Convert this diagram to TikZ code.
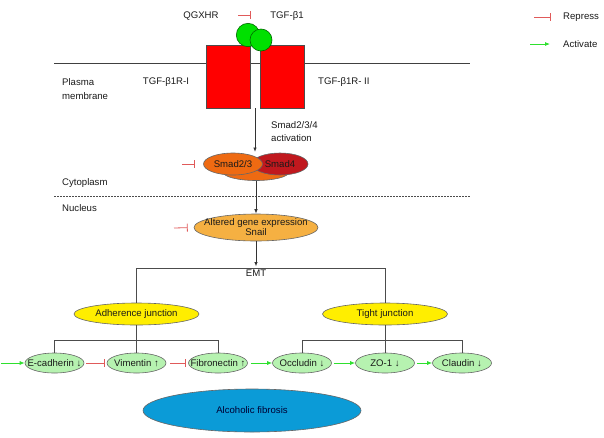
\documentclass[tikz,border=0pt]{standalone}
\usepackage{fontspec}
\setmainfont{Liberation Sans}
\usetikzlibrary{arrows.meta,shapes.geometric}
\definecolor{repred}{HTML}{E05A5A}
\definecolor{actgreen}{HTML}{2EE02E}
\definecolor{recred}{HTML}{FF0000}
\definecolor{ballgreen}{HTML}{00E000}
\definecolor{smadorange}{HTML}{EE6A12}
\definecolor{smaddark}{HTML}{C0181E}
\definecolor{altered}{HTML}{F5B042}
\definecolor{junc}{HTML}{FFEE00}
\definecolor{lgreen}{HTML}{B6F2B0}
\definecolor{fibblue}{HTML}{0B9BD7}
\definecolor{txtgray}{HTML}{1A1A1A}
\begin{document}
\begin{tikzpicture}[x=1pt,y=-1pt,
  font=\fontsize{9.6}{11}\selectfont, text=txtgray,
  lbl/.style={inner sep=0pt},
  rep/.style={draw=repred, line width=0.8pt, -{Bar[width=8pt,line width=0.8pt]}},
  act/.style={draw=actgreen, line width=0.8pt, -{Latex[length=5pt,width=4pt]}},
  flow/.style={draw=black!80, line width=0.8pt, -{Latex[length=4.5pt,width=3.5pt]}},
  tree/.style={draw=black!70, line width=0.9pt},
  ell/.style={ellipse, inner sep=0pt, draw=black!60, line width=0.6pt},
  gell/.style={ell, fill=lgreen, minimum width=59pt, minimum height=20pt},
  jell/.style={ell, fill=junc, minimum width=125pt, minimum height=22pt},
  rec/.style={draw=black!70, fill=recred, line width=0.6pt},
]
\useasboundingbox (0,0) rectangle (604,437);

% membrane and nucleus boundary
\draw[black!75, line width=0.8pt] (54,63) -- (470,63);
\draw[black!70, line width=0.7pt, dashed, dash pattern=on 2pt off 1pt] (54,196) -- (470,196);

% receptors
\draw[rec] (206,45) rectangle (250,108);
\draw[rec] (260,45) rectangle (304,108);
\draw[draw=green!40!black, fill=ballgreen, line width=0.6pt] (248,35) circle (11.7);
\draw[draw=green!40!black, fill=ballgreen, line width=0.6pt] (261,40) circle (11);
\coordinate (rec) at (255,108);

% top labels
\node[lbl] (qg) at (201,16) {QGXHR};
\node[lbl] (tgf) at (287,16) {TGF-β1};
\coordinate (qr) at (238,15);
\coordinate (qe) at (251,15);
\draw[rep] (qr) -- (qe);

\node[lbl, anchor=west, align=left, font=\fontsize{9.6}{14}\selectfont] (pm) at (62,89) {Plasma\\membrane};
\node[lbl] (r1) at (166,82) {TGF-β1R-I};
\node[lbl, anchor=west] (r2) at (318,82) {TGF-β1R- II};
\node[lbl, anchor=west] (cyto) at (62,183) {Cytoplasm};
\node[lbl, anchor=west] (nuc) at (62,208) {Nucleus};

% legend
\coordinate (lr) at (534,17);
\coordinate (lre) at (551,17);
\draw[rep] (lr) -- (lre);
\node[lbl, anchor=west] (repl) at (563,17) {Repress};
\coordinate (la) at (530,44);
\coordinate (lae) at (550,44);
\draw[act] (la) -- (lae);
\node[lbl, anchor=west] (actl) at (563,44) {Activate};

% Smad complex
\node[lbl, anchor=west, align=left, font=\fontsize{9.6}{13}\selectfont] (sact) at (271,131.5) {Smad2/3/4\\activation};
\node[ell, fill=smadorange, minimum width=66pt, minimum height=17pt] (sback) at (256,172) {};
\node[ell, fill=smaddark, minimum width=56pt, minimum height=22pt, label={center:Smad4}] (s4) at (280,164) {};
\node[ell, fill=smadorange, minimum width=59pt, minimum height=22pt, label={center:Smad2/3}] (s23) at (233,164) {};
\coordinate (stop) at (255,152);
\draw[flow] (rec) -- (stop);
\coordinate (rs) at (182,164);
\draw[rep, shorten >=8pt] (rs) -- (s23.west);

% altered gene expression
\node[ell, fill=altered, minimum width=124pt, minimum height=27pt,
  label={[align=center, font=\fontsize{9.6}{10}\selectfont]center:Altered gene expression\\Snail}] (alt) at (256,227.5) {};
\draw[flow] (sback.south) -- (alt.north);
\coordinate (ra) at (174,228);
\draw[rep, shorten >=6pt] (ra) -- (alt.west);

% EMT
\node[lbl] (emt) at (256,273) {EMT};
\draw[flow, shorten >=3pt] (alt.south) -- (emt.north);

% junctions
\node[jell, label={center:Adherence junction}] (adh) at (136.5,314) {};
\node[jell, label={center:Tight junction}] (tj) at (385,314) {};
\draw[tree] (adh.north) -- ++(0,-34) -| (tj.north);

% green markers
\node[gell, label={center:E-cadherin ↓}] (ecad) at (54.5,363) {};
\node[gell, label={center:Vimentin ↑}] (vim) at (136.5,363) {};
\node[gell, label={center:Fibronectin ↑}] (fib) at (218,363) {};
\node[gell, label={center:Occludin ↓}] (occ) at (302,363) {};
\node[gell, label={center:ZO-1 ↓}] (zo) at (385,363) {};
\node[gell, label={center:Claudin ↓}] (cla) at (462,363) {};

\draw[tree] (ecad.north) -- ++(0,-12) -| (fib.north);
\draw[tree] (vim.north) -- (adh.south);
\draw[tree] (occ.north) -- ++(0,-12) -| (cla.north);
\draw[tree] (zo.north) -- (tj.south);

\coordinate (ein) at (1,363);
\draw[act] (ein) -- (ecad.west);
\draw[rep, shorten <=2pt, shorten >=2pt] (ecad.east) -- (vim.west);
\draw[rep, shorten <=4pt, shorten >=2pt] (vim.east) -- (fib.west);
\draw[act, shorten <=3pt] (fib.east) -- (occ.west);
\draw[act, shorten <=2pt] (occ.east) -- (zo.west);
\draw[act, shorten <=2pt] (zo.east) -- (cla.west);

% fibrosis
\node[ell, fill=fibblue, minimum width=218pt, minimum height=43pt,
  label={[text=blue!20!black]center:Alcoholic fibrosis}] (fibro) at (252,410.5) {};
\end{tikzpicture}
\end{document}
